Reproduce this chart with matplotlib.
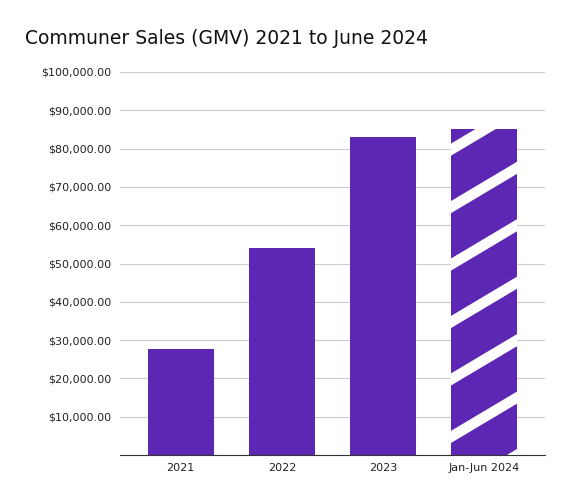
import matplotlib.pyplot as plt
import numpy as np

categories = ["2021", "2022", "2023", "Jan-Jun 2024"]
sales = [27800, 54000, 83000, 85200]
yticks = list(range(10000, 100001, 10000))

fig = plt.figure(figsize=(5.84, 5.0), dpi=100)
ax = fig.add_axes([120/584, 45/500, 425/584, 383/500])
color = "#5b27b3"
bars = ax.bar(categories, sales, width=0.65, color=color, zorder=2)

# white diagonal stripes on the partial-year bar
last = bars[-1]
x0, w = last.get_x(), last.get_width()
for k in range(-2, 9):
    yb = k * 15000 + 4000
    ln, = ax.plot([x0 - 0.05, x0 + w + 0.05], [yb, yb + 11800], color="white",
                  lw=7.5, solid_capstyle="butt", zorder=3)
    ln.set_clip_path(last)

ax.set_ylim(0, 100000)
ax.set_xlim(-0.6, 3.6)
ax.set_yticks(yticks)
ax.set_yticklabels([f"${v:,.2f}" for v in yticks])
ax.yaxis.grid(True, color="#cccccc", lw=0.8, zorder=0)
for s in ["top", "right", "left"]:
    ax.spines[s].set_visible(False)
ax.spines["bottom"].set_color("#333333")
ax.tick_params(axis="both", length=0, labelsize=8, colors="#222222", pad=6)
fig.text(25/584, 1 - 38/500, "Communer Sales (GMV) 2021 to June 2024",
         fontsize=13.5, va="center", ha="left", color="#111111")
fig.savefig("out.png")
